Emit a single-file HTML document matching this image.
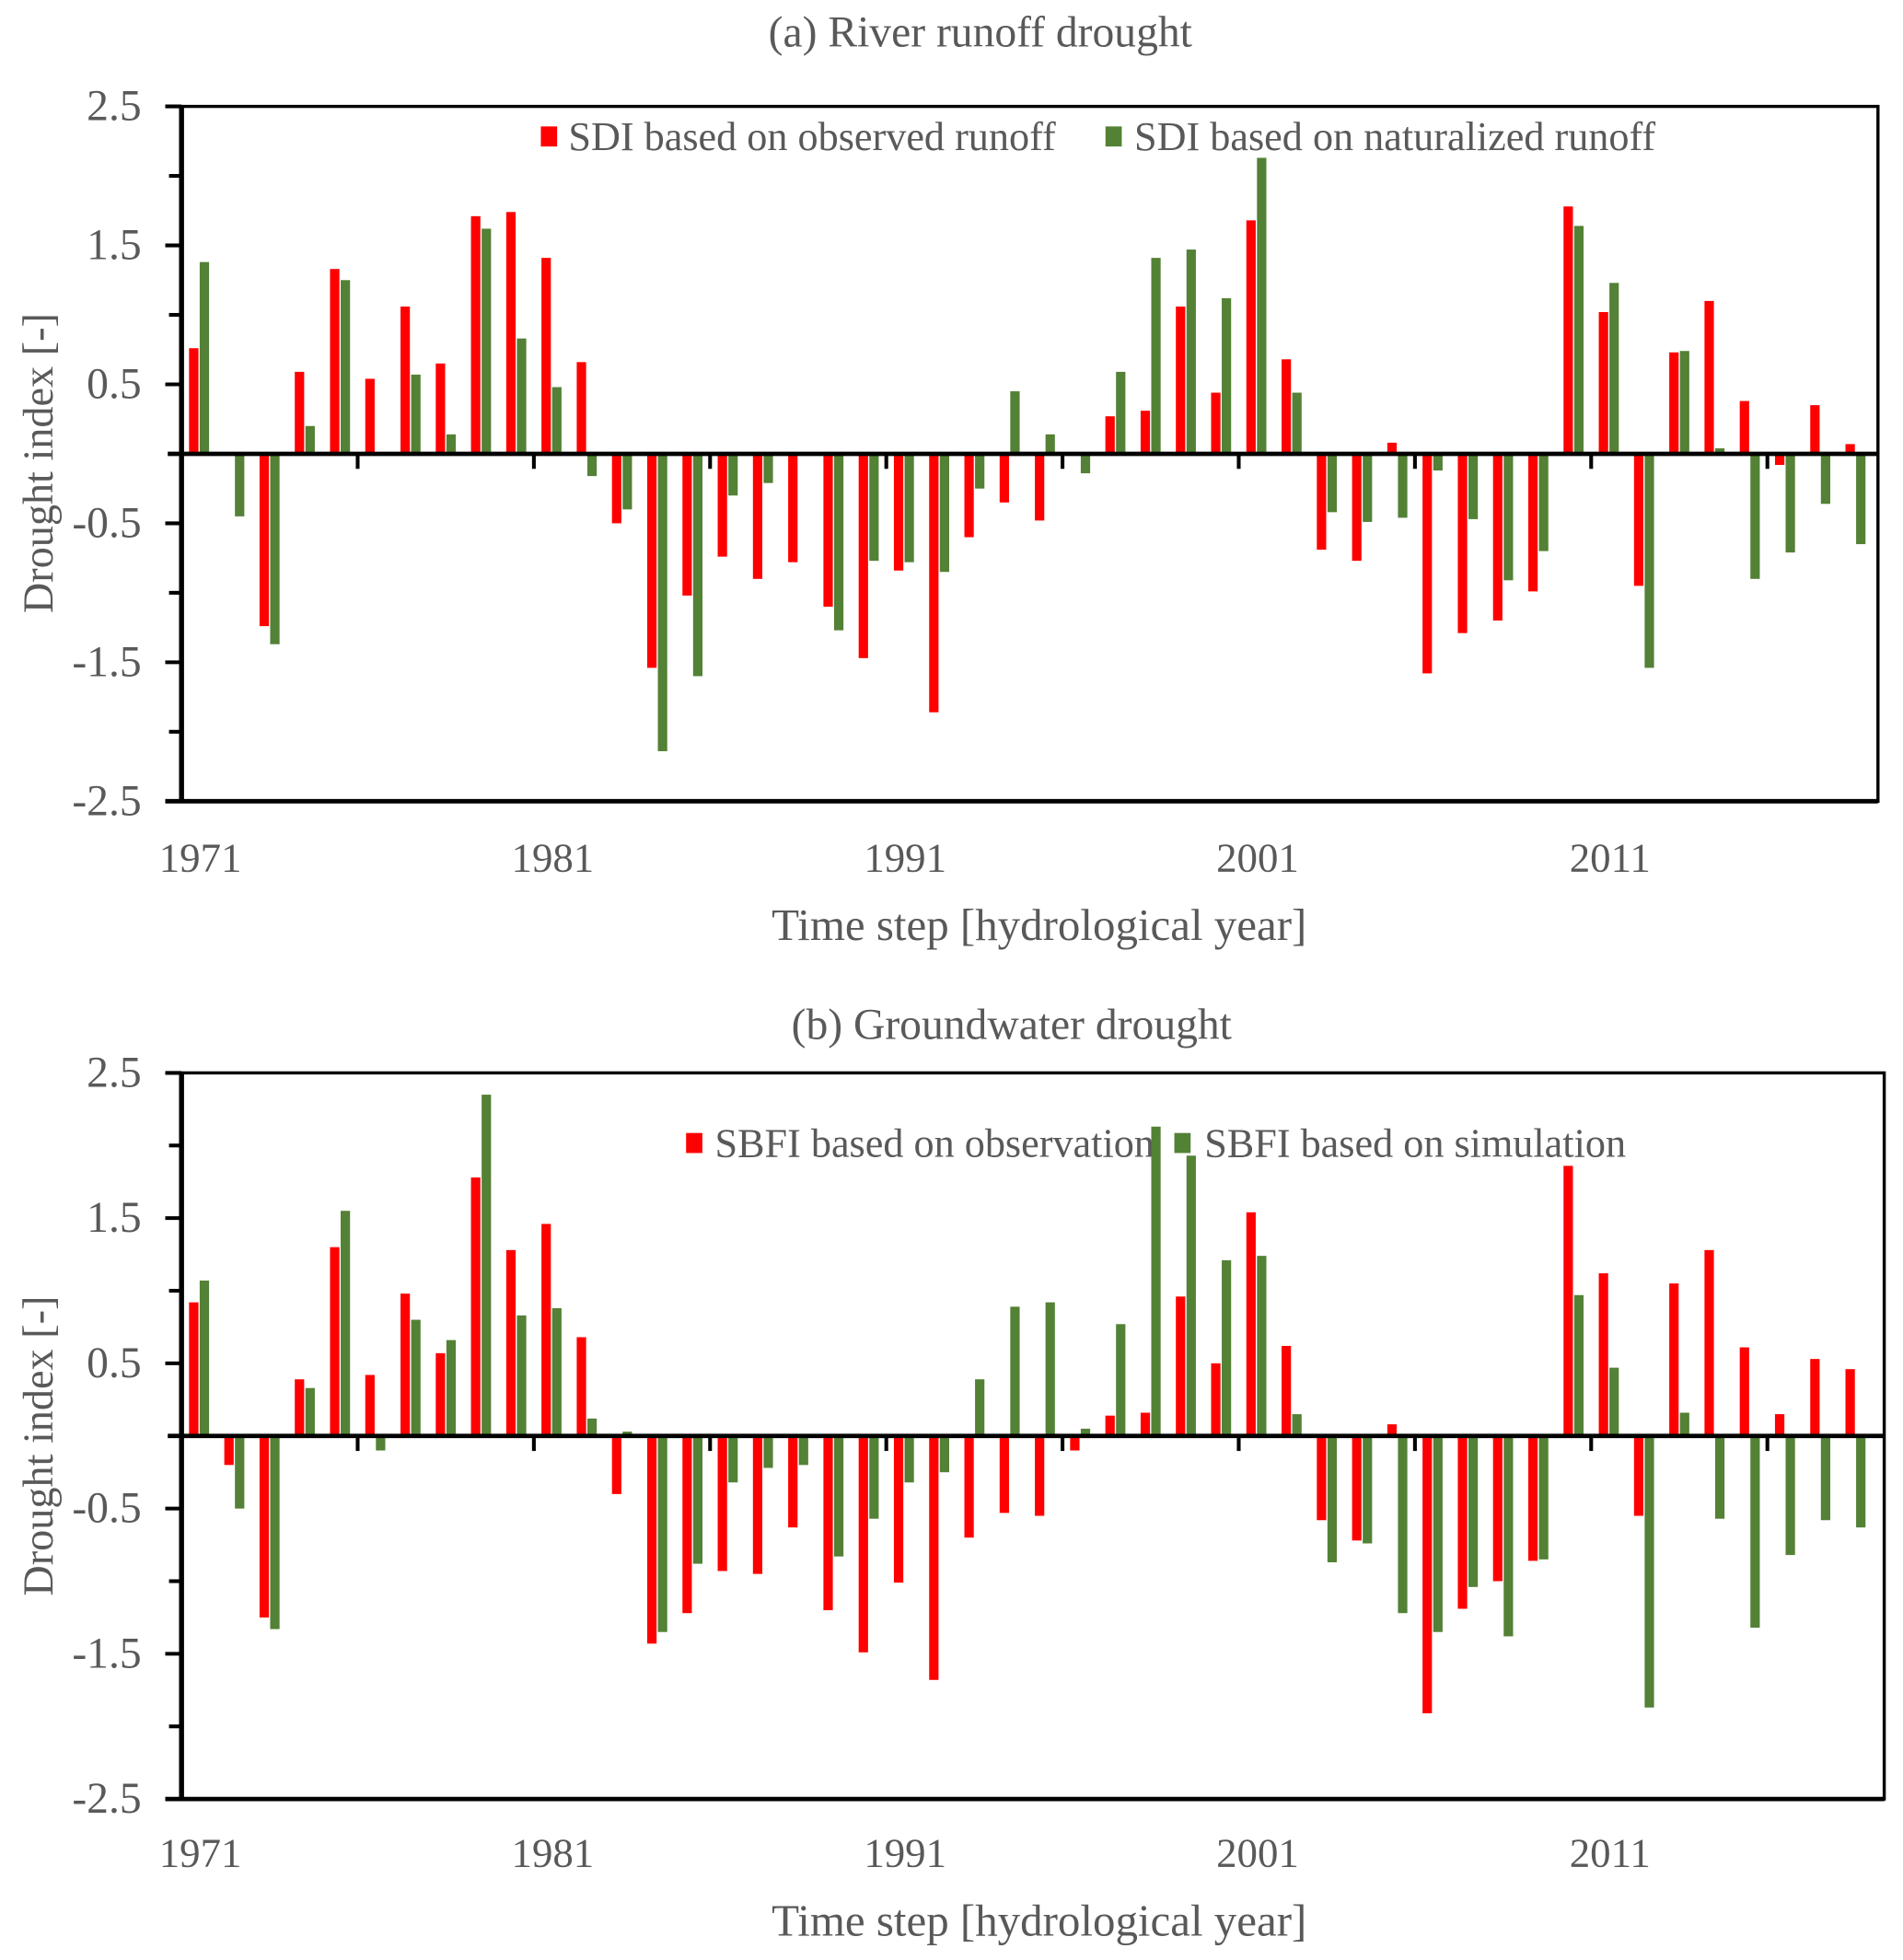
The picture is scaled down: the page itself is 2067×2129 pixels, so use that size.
<!DOCTYPE html>
<html><head><meta charset="utf-8"><style>
html,body{margin:0;padding:0;background:#fff;}
svg{display:block;}
text{font-family:"Liberation Serif",serif;fill:#595959;}
</style></head><body>
<svg id="s" width="2067" height="2129" viewBox="0 0 1520 1565.6" preserveAspectRatio="none" xmlns="http://www.w3.org/2000/svg">
<text x="783" y="37" font-size="35" text-anchor="middle">(a) River runoff drought</text>
<text x="830" y="751" font-size="36" text-anchor="middle">Time step [hydrological year]</text>
<text transform="translate(42,370) rotate(-90)" font-size="34" text-anchor="middle">Drought index  [-]</text>
<rect x="432" y="101" width="13" height="16" fill="#ff0000"/>
<text x="454" y="120" font-size="32.5">SDI based on observed runoff</text>
<rect x="883" y="101" width="13" height="16" fill="#538135"/>
<text x="906" y="120" font-size="32.5">SDI based on naturalized runoff</text>

<text x="808" y="830" font-size="35" text-anchor="middle">(b) Groundwater drought</text>
<text x="830" y="1546" font-size="36" text-anchor="middle">Time step [hydrological year]</text>
<text transform="translate(42,1155) rotate(-90)" font-size="34" text-anchor="middle">Drought  index [-]</text>
<rect x="548" y="905" width="13" height="16" fill="#ff0000"/>
<text x="571" y="924" font-size="32.5">SBFI based on observation</text>
<rect x="938" y="905" width="13" height="16" fill="#538135"/>
<text x="962" y="924" font-size="32.5">SBFI based on simulation</text>
<g id="g"></g>
</svg>
<script>
var A=[[0.76,1.38],[0,-0.45],[-1.24,-1.37],[0.59,0.2],[1.33,1.25],[0.54,0],[1.06,0.57],[0.65,0.14],[1.71,1.62],[1.74,0.83],[1.41,0.48],[0.66,-0.16],[-0.5,-0.4],[-1.54,-2.14],[-1.02,-1.6],[-0.74,-0.3],[-0.9,-0.21],[-0.78,0],[-1.1,-1.27],[-1.47,-0.77],[-0.84,-0.78],[-1.86,-0.85],[-0.6,-0.25],[-0.35,0.45],[-0.48,0.14],[0,-0.14],[0.27,0.59],[0.31,1.41],[1.06,1.47],[0.44,1.12],[1.68,2.13],[0.68,0.44],[-0.69,-0.42],[-0.77,-0.49],[0.08,-0.46],[-1.58,-0.12],[-1.29,-0.47],[-1.2,-0.91],[-0.99,-0.7],[1.78,1.64],[1.02,1.23],[-0.95,-1.54],[0.73,0.74],[1.1,0.04],[0.38,-0.9],[-0.08,-0.71],[0.35,-0.36],[0.07,-0.65]];
var B=[[0.92,1.07],[-0.2,-0.5],[-1.25,-1.33],[0.39,0.33],[1.3,1.55],[0.42,-0.1],[0.98,0.8],[0.57,0.66],[1.78,2.35],[1.28,0.83],[1.46,0.88],[0.68,0.12],[-0.4,0.03],[-1.43,-1.35],[-1.22,-0.88],[-0.93,-0.32],[-0.95,-0.22],[-0.63,-0.2],[-1.2,-0.83],[-1.49,-0.57],[-1.01,-0.32],[-1.68,-0.25],[-0.7,0.39],[-0.53,0.89],[-0.55,0.92],[-0.1,0.05],[0.14,0.77],[0.16,2.13],[0.96,1.93],[0.5,1.21],[1.54,1.24],[0.62,0.15],[-0.58,-0.87],[-0.72,-0.74],[0.08,-1.22],[-1.91,-1.35],[-1.19,-1.04],[-1.0,-1.38],[-0.86,-0.85],[1.86,0.97],[1.12,0.47],[-0.55,-1.87],[1.05,0.16],[1.28,-0.57],[0.61,-1.32],[0.15,-0.82],[0.53,-0.58],[0.46,-0.63]];
var h='';
function panel(D,top,bot,right,labY){
 var u=(bot-top)/5, z=top+2.5*u, L=145;
 D.forEach(function(d,i){
  var c=159+i*28.15;
  [[d[0],c-8,'#ff0000'],[d[1],c+0.5,'#538135']].forEach(function(b){
   var v=b[0]; if(v===0)return;
   var y1=z-v*u; var y=Math.min(y1,z), hh=Math.abs(v*u);
   h+='<rect x="'+b[1]+'" y="'+y+'" width="7.5" height="'+hh+'" fill="'+b[2]+'"/>';
  });
 });
 h+='<rect x="'+L+'" y="'+top+'" width="'+(right-L)+'" height="'+(bot-top)+'" fill="none" stroke="#000" stroke-width="2.5"/>';
 h+='<line x1="'+L+'" y1="'+top+'" x2="'+L+'" y2="'+(bot+1)+'" stroke="#000" stroke-width="4"/>';
 h+='<line x1="132" y1="'+bot+'" x2="'+(right)+'" y2="'+bot+'" stroke="#000" stroke-width="3.5"/>';
 h+='<line x1="134" y1="'+z+'" x2="'+right+'" y2="'+z+'" stroke="#000" stroke-width="3.5"/>';
 for(var k=0;k<=10;k++){var y=top+k*u/2;h+='<line x1="'+(k%2?135:132)+'" y1="'+y+'" x2="'+L+'" y2="'+y+'" stroke="#000" stroke-width="3"/>';}
 var labs=['2.5','1.5','0.5','-0.5','-1.5','-2.5'];
 labs.forEach(function(t,k){var y=top+k*u+11;h+='<text x="113" y="'+y+'" font-size="35" text-anchor="end">'+t+'</text>';});
 for(var k=1;k<=9;k++){var x=159+(5*k-0.5)*28.15;h+='<line x1="'+x+'" y1="'+z+'" x2="'+x+'" y2="'+(z+12)+'" stroke="#000" stroke-width="3"/>';}
 ['1971','1981','1991','2001','2011'].forEach(function(t,k){h+='<text x="'+(160+k*281.5)+'" y="'+labY+'" font-size="33" text-anchor="middle">'+t+'</text>';});
}
panel(A,85,640,1500,696);
panel(B,857,1437,1505,1491);
document.getElementById('g').innerHTML=h;
</script>
</body></html>
